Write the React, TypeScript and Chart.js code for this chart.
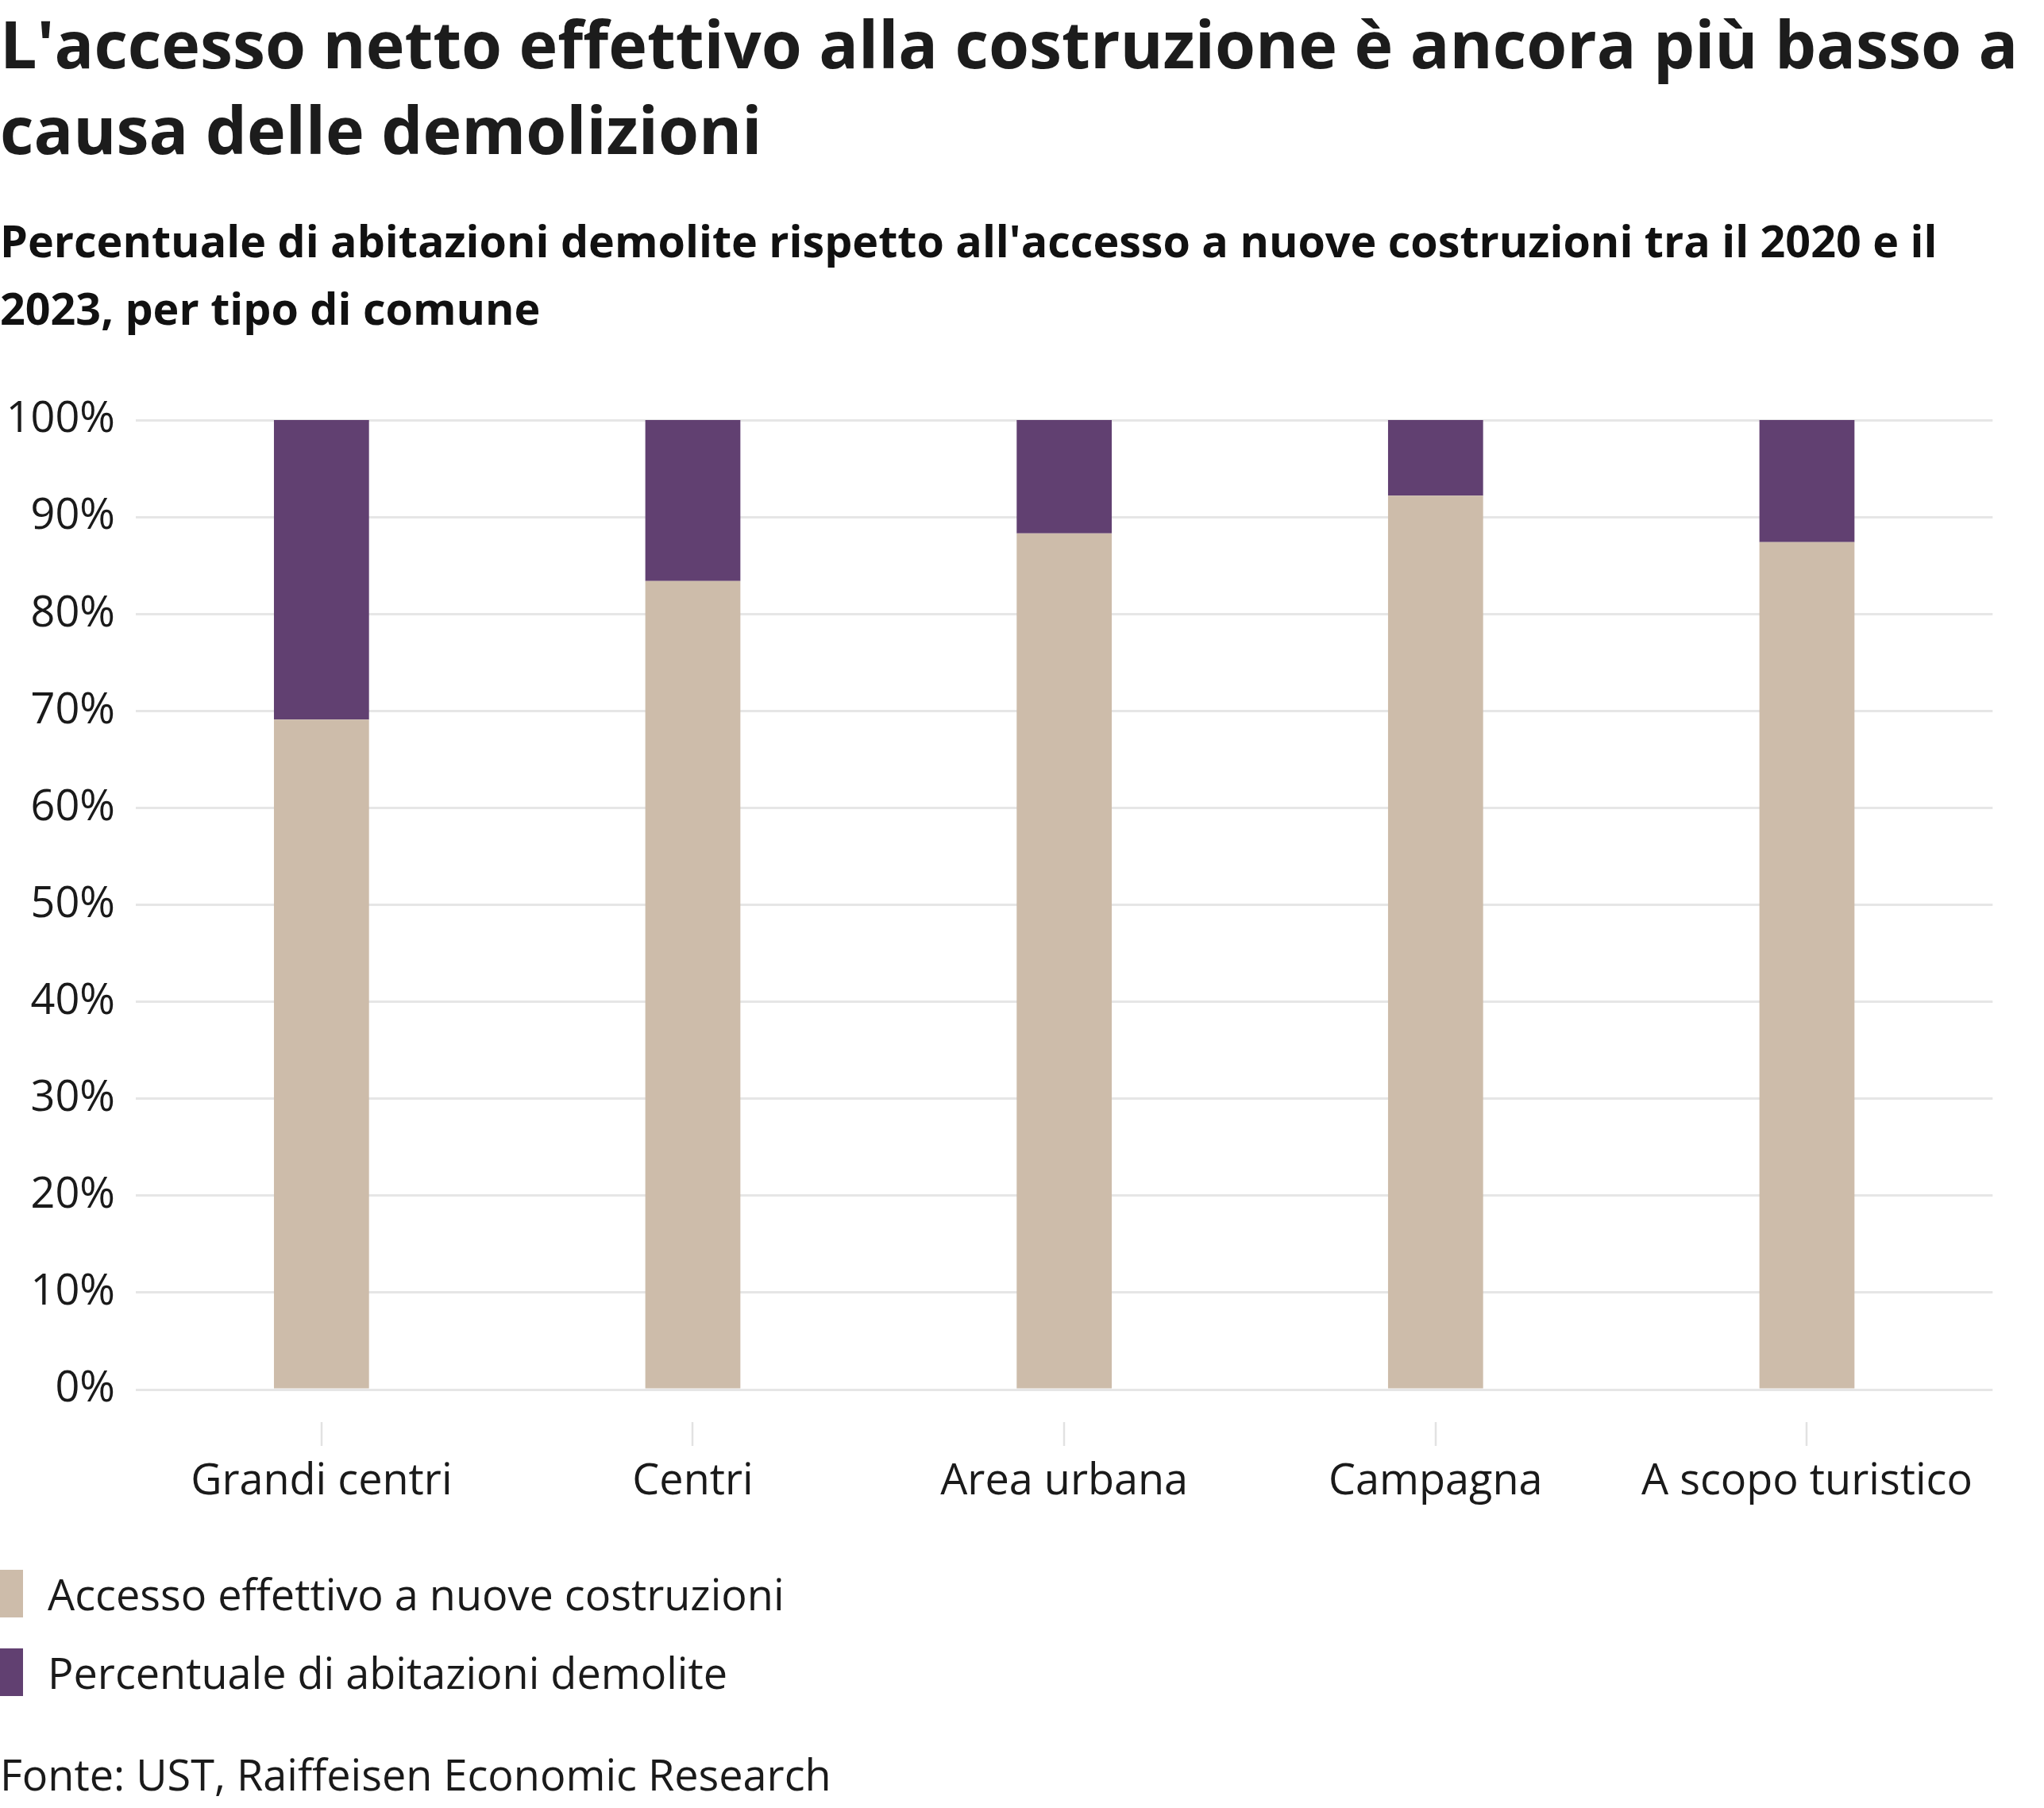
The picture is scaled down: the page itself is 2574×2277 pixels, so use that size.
import React, { useEffect, useRef } from "react";
import { Chart, registerables } from "chart.js";

Chart.register(...registerables);

const TITLE_LINES = [
  "L'accesso netto effettivo alla costruzione è ancora più basso a",
  "causa delle demolizioni",
];
const SUBTITLE_LINES = [
  "Percentuale di abitazioni demolite rispetto all'accesso a nuove costruzioni tra il 2020 e il",
  "2023, per tipo di comune",
];
const SOURCE = "Fonte: UST, Raiffeisen Economic Research";

const categories = ["Grandi centri", "Centri", "Area urbana", "Campagna", "A scopo turistico"];
const seriesNames = ["Accesso effettivo a nuove costruzioni", "Percentuale di abitazioni demolite"];
const accessoValues = [69.1, 83.4, 88.3, 92.2, 87.4];
const demoliteValues = [30.9, 16.6, 11.7, 7.8, 12.6];
const seriesColors = ["#cdbcaa", "#614071"];
const yTicks = [0, 10, 20, 30, 40, 50, 60, 70, 80, 90, 100];

const FONT = '"Open Sans", "Noto Sans", sans-serif';
const TEXT = "#1a1a1a";

const tickMarks = {
  id: "tickMarks",
  afterDraw(chart: any) {
    const x = chart.scales.x;
    const area = chart.chartArea;
    const ctx = chart.ctx;
    ctx.save();
    ctx.strokeStyle = "#e2e2e2";
    ctx.lineWidth = 2.5;
    categories.forEach((_, i) => {
      const px = Math.round(x.getPixelForValue(i));
      ctx.beginPath();
      ctx.moveTo(px, area.bottom + 41);
      ctx.lineTo(px, area.bottom + 71);
      ctx.stroke();
    });
    ctx.restore();
  },
};

export default function App() {
  const ref = useRef<HTMLCanvasElement | null>(null);

  useEffect(() => {
    let chart: Chart | null = null;
    let cancelled = false;
    const build = () => {
      if (cancelled || !ref.current) return;
      chart = new Chart(ref.current, {
        type: "bar",
        data: {
          labels: categories,
          datasets: [
            {
              label: seriesNames[0],
              data: accessoValues,
              backgroundColor: seriesColors[0],
              borderWidth: 0,
              barPercentage: 0.256,
              categoryPercentage: 1,
            },
            {
              label: seriesNames[1],
              data: demoliteValues,
              backgroundColor: seriesColors[1],
              borderWidth: 0,
              barPercentage: 0.256,
              categoryPercentage: 1,
            },
          ],
        },
        options: {
          animation: false,
          responsive: false,
          devicePixelRatio: 1,
          layout: { padding: { top: 69, right: 61, left: 0, bottom: 0 } },
          plugins: {
            legend: { display: false },
            title: { display: false },
            tooltip: { enabled: false },
          },
          scales: {
            x: {
              stacked: true,
              grid: { display: false, drawTicks: false },
              border: { display: false },
              ticks: {
                font: { family: FONT, size: 54 },
                color: TEXT,
                padding: 84,
                maxRotation: 0,
                autoSkip: false,
              },
              afterFit: (s: any) => {
                s.height = 150;
              },
            },
            y: {
              stacked: true,
              min: 0,
              max: 100,
              afterBuildTicks: (s: any) => {
                s.ticks = yTicks.map((v) => ({ value: v }));
              },
              grid: { color: "#e6e6e6", lineWidth: 3, drawTicks: false },
              border: { display: false },
              ticks: {
                font: { family: FONT, size: 54 },
                color: TEXT,
                padding: 26,
                callback: (v: any) => v + "%",
              },
              afterFit: (s: any) => {
                s.width = 171;
              },
            },
          },
        },
        plugins: [tickMarks],
      });
    };
    const fonts: any = (document as any).fonts;
    if (fonts && fonts.load) {
      Promise.all([
        fonts.load('54px "Open Sans"'),
        fonts.load('700 54px "Open Sans"'),
      ]).then(build, build);
    } else {
      build();
    }
    return () => {
      cancelled = true;
      if (chart) chart.destroy();
    };
  }, []);

  const abs = (o: React.CSSProperties): React.CSSProperties => ({ position: "absolute", ...o });

  return (
    <div style={{ position: "absolute", left: 0, top: 0, width: 2574, height: 2277, background: "#fff", fontFamily: FONT, color: TEXT }}>
      <div style={abs({ left: 0, top: 0, fontSize: 82.5, lineHeight: "108px", fontWeight: 700, whiteSpace: "nowrap", color: "#1c1c1c" })}>
        {TITLE_LINES.map((l, i) => (
          <div key={i}>{l}</div>
        ))}
      </div>
      <div style={abs({ left: 0, top: 260, fontSize: 55.6, lineHeight: "85px", fontWeight: 700, whiteSpace: "nowrap", color: "#111" })}>
        {SUBTITLE_LINES.map((l, i) => (
          <div key={i}>{l}</div>
        ))}
      </div>
      <canvas ref={ref} width={2574} height={1440} style={abs({ left: 0, top: 460, width: 2574, height: 1440 })} />
      {seriesNames.map((name, i) => (
        <div key={name} style={abs({ left: 0, top: 1977 + i * 99, height: 60, whiteSpace: "nowrap" })}>
          <div style={abs({ left: 0, top: 0, width: 29, height: 60, background: seriesColors[i] })} />
          <div style={abs({ left: 60, top: 0, fontSize: 54, lineHeight: "60px" })}>{name}</div>
        </div>
      ))}
      <div style={abs({ left: 0, top: 2204, fontSize: 54, lineHeight: "60px", whiteSpace: "nowrap" })}>{SOURCE}</div>
    </div>
  );
}
